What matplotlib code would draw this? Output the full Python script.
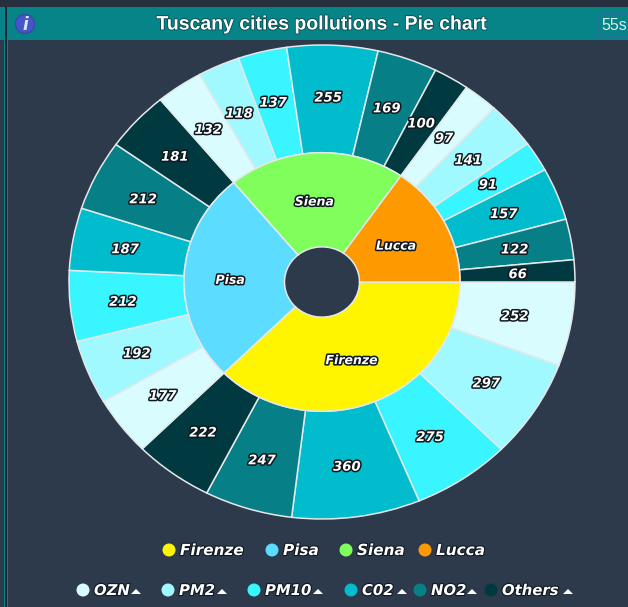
import numpy as np
import matplotlib
matplotlib.use('Agg')
import matplotlib.pyplot as plt
import matplotlib.patheffects as pe
from matplotlib.patches import Rectangle, Circle, FancyBboxPatch, Polygon

cities = ['Firenze', 'Pisa', 'Siena', 'Lucca']
city_colors = ['#fff500', '#5cdcff', '#80ff5c', '#ff9900']
pollutants = ['OZN', 'PM2', 'PM10', 'C02', 'NO2', 'Others']
pollutant_colors = ['#d9fdff', '#a0f9ff', '#38f5ff', '#00bccc', '#067f87', '#003a40']

firenze = [252, 297, 275, 360, 247, 222]
pisa = [177, 192, 212, 187, 212, 181]
siena = [132, 118, 137, 255, 169, 100]
lucca = [97, 141, 91, 157, 122, 66]

values = firenze + pisa + siena + lucca
totals = [sum(firenze), sum(pisa), sum(siena), sum(lucca)]

W, H = 628, 607
bg = '#2c3a4c'
cx, cy = 322, H - 282
r_out, r_mid, r_in = 253, 138, 37.5
squash = 237 / 253  # the pie is a bit flattened in the reference

fig = plt.figure(figsize=(W / 100, H / 100), dpi=100, facecolor=bg)

# pie axes, y range stretched so circles come out flattened
pie_ax = fig.add_axes([0, 0, 1, 1])
outline = [pe.withStroke(linewidth=2.2, foreground='#10181f')]
thin = [pe.withStroke(linewidth=1.6, foreground='#10181f')]
white_edge = dict(edgecolor='#e4e8ea', linewidth=1.1)

outer, _ = pie_ax.pie(values, colors=pollutant_colors * 4, startangle=0, counterclock=False,
                      center=(cx, cy), radius=r_out, frame=True,
                      wedgeprops=dict(width=r_out - r_mid, **white_edge))
inner, _ = pie_ax.pie(totals, colors=city_colors, startangle=0, counterclock=False,
                      center=(cx, cy), radius=r_mid, frame=True,
                      wedgeprops=dict(width=r_mid - r_in, **white_edge))
pie_ax.set_aspect('auto')
pie_ax.set_xlim(0, W)
pie_ax.set_ylim(cy - cy / squash, cy + (H - cy) / squash)
pie_ax.axis('off')


def put_label(w, txt, r, size, dx, dy):
    a = np.deg2rad((w.theta1 + w.theta2) / 2)
    pie_ax.text(cx + dx + r * np.cos(a), cy + dy + r * np.sin(a), txt, color='white', fontsize=size,
                fontweight='bold', style='italic', ha='center', va='center', path_effects=outline)


for w, v in zip(outer, values):
    put_label(w, str(v), 198, 9.5, -2, -1.5)
for w, c in zip(inner, cities):
    put_label(w, c, 88, 9, -4, -2.5)

# everything else in pixel coordinates
ax = fig.add_axes([0, 0, 1, 1])
ax.patch.set_alpha(0)
ax.set_xlim(0, W)
ax.set_ylim(0, H)
ax.axis('off')

# header
header = '#068488'
ax.add_patch(Rectangle((0, H - 7), W, 7, fc='#262f3e', ec='none'))
ax.add_patch(Rectangle((8, H - 40), W - 8, 33, fc=header, ec='none'))
ax.add_patch(Rectangle((0, H - 40), 5, 33, fc=header, ec='none'))
ax.add_patch(Rectangle((4, 0), 1, H - 40, fc=header, ec='none'))
ax.add_patch(Rectangle((5, 0), 2, H - 7, fc='#1c2530', ec='none'))
ax.add_patch(Rectangle((7, 0), 1, H - 7, fc=header, ec='none'))
ax.text(322, H - 25, 'Tuscany cities pollutions - Pie chart', color='white', fontsize=14,
        fontweight='bold', family='Liberation Sans', ha='center', va='center',
        path_effects=[pe.withStroke(linewidth=1.2, foreground='#0a4a4e')])
ax.add_patch(Circle((25, H - 24), 9.5, fc='#4456c8', ec='#3a48a8', lw=1))
ax.text(25, H - 24.5, 'i', color='#dfe6ff', fontsize=12, fontweight='bold', style='italic',
        ha='center', va='center')
ax.add_patch(FancyBboxPatch((598, H - 36), 40, 21, boxstyle='round,pad=0,rounding_size=4',
                            fc='none', ec='#2a6f9f', lw=1.2))
ax.text(601, H - 26, '55s', color='#dcf0ee', fontsize=11.5, family='Liberation Sans',
        ha='left', va='center')

# legends
legend_fx = [169, 272, 346, 425]
for x, c, col in zip(legend_fx, cities, city_colors):
    ax.add_patch(Circle((x, H - 550), 6.5, fc=col, ec='none'))
    ax.text(x + 11, H - 550.5, c, color='white', fontsize=11, fontweight='bold', style='italic',
            ha='left', va='center', path_effects=thin)

legend_px = [83, 168, 254, 351, 420, 491]
legend_tri = [136, 222, 318, 402, 472, 568]
for x, t, p, col in zip(legend_px, legend_tri, pollutants, pollutant_colors):
    ax.add_patch(Circle((x, H - 590), 6.5, fc=col, ec='none'))
    ax.text(x + 11, H - 590.5, p, color='white', fontsize=10.7, fontweight='bold', style='italic',
            ha='left', va='center', path_effects=thin)
    ax.add_patch(Polygon([(t - 5, H - 594), (t + 5, H - 594), (t, H - 589)], fc='white', ec='none'))

fig.savefig('out.png', dpi=100, facecolor=bg)
